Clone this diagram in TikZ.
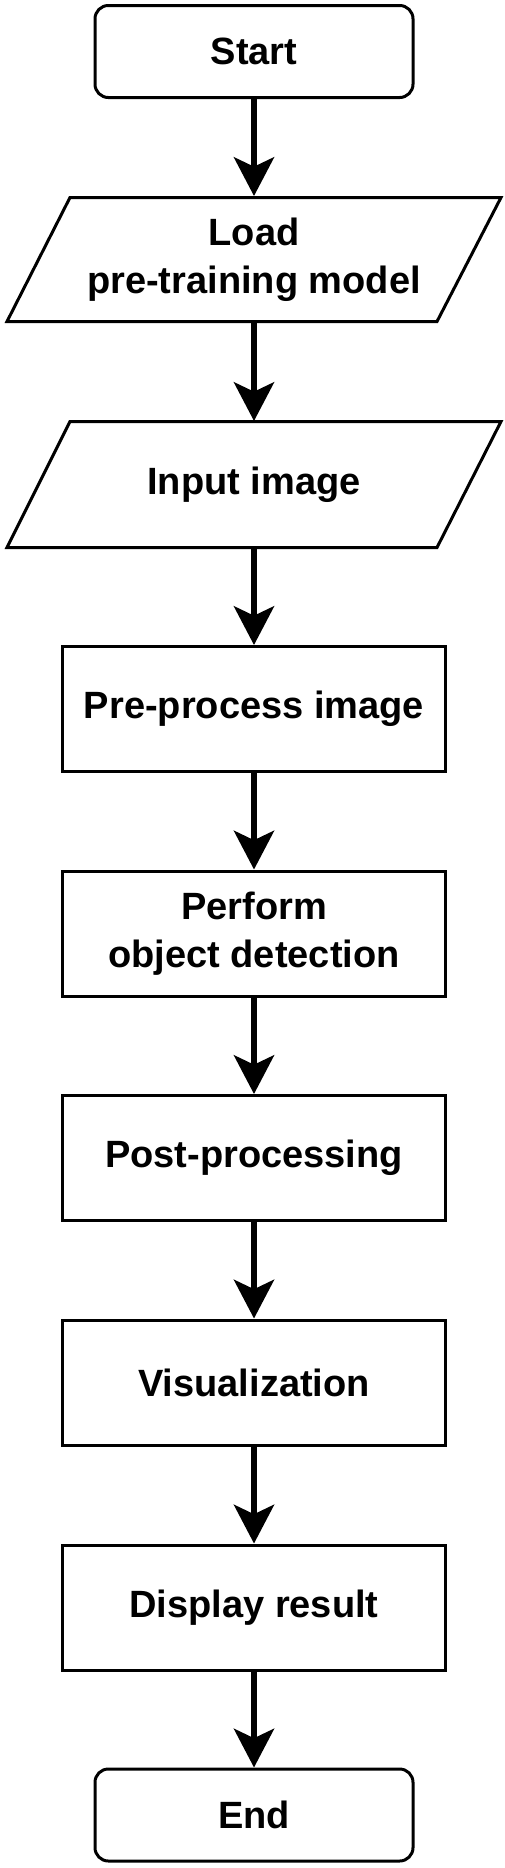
\documentclass[tikz,border=0pt]{standalone}
\usepackage{fontspec}
\setmainfont{Liberation Sans}
\usetikzlibrary{arrows.meta}
\begin{document}
\begin{tikzpicture}[
		x=0.75pt, y=-0.75pt,
		every node/.style = {font=\bfseries\fontsize{28.5}{36}\selectfont, align=center, inner sep=0pt},
		term/.style = {rectangle, draw, line width=2.25pt, rounded corners=10pt, minimum width=238.5pt, minimum height=69pt},
		io/.style = {rectangle, outer sep=1.125pt, minimum width=323pt, minimum height=93pt},
		iobox/.style = {draw, line width=2.25pt},
		proc/.style = {rectangle, draw, line width=2.25pt, minimum width=287.25pt, minimum height=93.75pt},
		arr/.style = {-{Stealth[length=29pt, width=30pt, inset=7pt]}, line width=4.5pt}
		]
		\useasboundingbox (0, 0) rectangle (505, 1868);
		
		%Nodes
		\node[term]	(start)		at	(254, 51.5)		{Start};
		\node[io]	(load)		at	(254, 259.5)	{Load\\pre-training model};
		\node[io]	(input)		at	(254, 484.5)	{Input image};
		\node[proc]	(pre)		at	(254, 709)		{Pre-process image};
		\node[proc]	(detect)	at	(254, 933.5)	{Perform\\object detection};
		\node[proc]	(post)		at	(254, 1158)		{Post-processing};
		\node[proc]	(vis)		at	(254, 1382.5)	{Visualization};
		\node[proc]	(disp)		at	(254, 1607.5)	{Display result};
		\node[term]	(stop)		at	(254, 1815)		{End};
		
		%Parallelograms
		\draw[iobox, shift={(load.center)}]		(-184, -62) -- (247, -62) -- (183, 62) -- (-247, 62) -- cycle;
		\draw[iobox, shift={(input.center)}]	(-184, -63) -- (247, -63) -- (183, 63) -- (-247, 63) -- cycle;
		
		%Lines
		\draw[arr]	(start)		--	(load);
		\draw[arr]	(load)		--	(input);
		\draw[arr]	(input)		--	(pre);
		\draw[arr]	(pre)		--	(detect);
		\draw[arr]	(detect)	--	(post);
		\draw[arr]	(post)		--	(vis);
		\draw[arr]	(vis)		--	(disp);
		\draw[arr]	(disp)		--	(stop);
	\end{tikzpicture}
\end{document}
